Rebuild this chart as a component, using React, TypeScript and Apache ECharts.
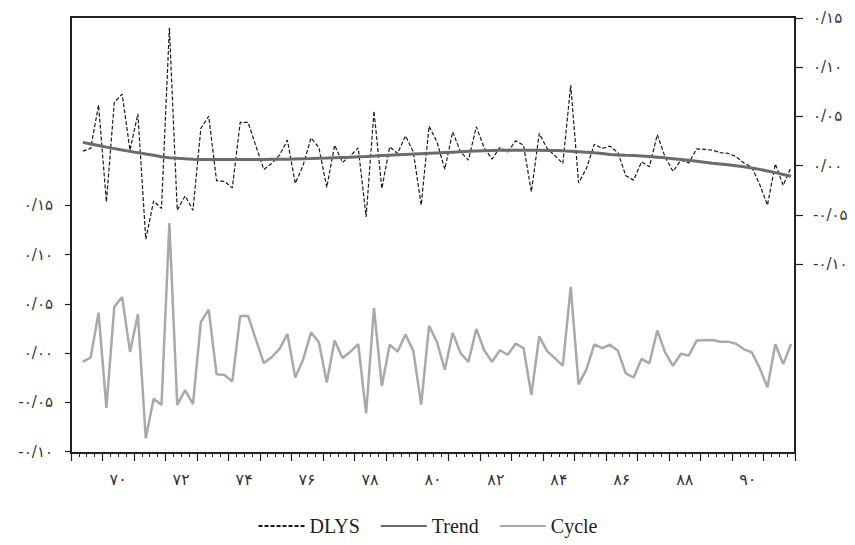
import React, { useEffect, useRef } from "react";
import * as echarts from "echarts";

// First observation: 1369 Q2 (quarterly data, DLYS loses the first quarter)
const startYear = 1369;
const startQuarter = 2;

// DLYS (right axis)
const dlys = [
  0.0147, 0.0175, 0.0615, -0.0368, 0.0642, 0.0726, 0.0157, 0.0526, -0.0747, -0.0358,
  -0.0435, 0.140, -0.0452, -0.0307, -0.0452, 0.0378, 0.0503, -0.0154, -0.016, -0.0226,
  0.0439, 0.0439, 0.0198, -0.0039, 0.0022, 0.0107, 0.0259, -0.0181, 0.0005, 0.0282,
  0.0185, -0.0221, 0.0208, 0.0033, 0.0100, 0.0181, -0.052, 0.0554, -0.0232, 0.0191,
  0.0124, 0.0303, 0.0140, -0.0401, 0.0401, 0.0242, -0.0036, 0.0343, 0.0140, 0.0056,
  0.0394, 0.0181, 0.0066, 0.0185, 0.0140, 0.0252, 0.0208, -0.0266, 0.0327, 0.0175,
  0.0100, 0.0022, 0.0818, -0.0175, -0.0028, 0.0218, 0.0175, 0.0198, 0.0132, -0.0102,
  -0.0147, 0.0039, -0.0012, 0.0315, 0.0086, -0.0059, 0.0056, 0.0028, 0.0171, 0.0165,
  0.0157, 0.0132, 0.0124, 0.0093, 0.0027, -0.0015, -0.0188, -0.0401, 0.0018, -0.0201,
  -0.0015,
];

// Trend (right axis)
const trend = [
  0.0236, 0.0220, 0.0205, 0.0188, 0.0173, 0.0158, 0.0145, 0.0132, 0.0118, 0.0105,
  0.0091, 0.0081, 0.0074, 0.0069, 0.0065, 0.0063, 0.0062, 0.0062, 0.0062, 0.0062,
  0.0062, 0.0062, 0.0062, 0.0063, 0.0064, 0.0065, 0.0066, 0.0068, 0.0070, 0.0072,
  0.0075, 0.0077, 0.0080, 0.0083, 0.0086, 0.0090, 0.0093, 0.0097, 0.0102, 0.0106,
  0.0110, 0.0114, 0.0118, 0.0122, 0.0125, 0.0129, 0.0133, 0.0137, 0.0141, 0.0145,
  0.0149, 0.0152, 0.0154, 0.0156, 0.0157, 0.0157, 0.0157, 0.0157, 0.0156, 0.0155,
  0.0153, 0.0150, 0.0146, 0.0142, 0.0137, 0.0130, 0.0124, 0.0113, 0.0109, 0.0105,
  0.0102, 0.0098, 0.0092, 0.0086, 0.0079, 0.0071, 0.0063, 0.0054, 0.0044, 0.0034,
  0.0025, 0.0017, 0.0008, -0.0001, -0.0011, -0.0023, -0.0038, -0.0054, -0.0071, -0.0089,
  -0.0107,
];

// Cycle (left axis)
const cycle = [
  -0.0089, -0.0045, 0.0410, -0.0556, 0.0469, 0.0568, 0.0012, 0.0394, -0.0865, -0.0463,
  -0.0526, 0.1319, -0.0526, -0.0376, -0.0517, 0.0315, 0.0441, -0.0216, -0.0222, -0.0288,
  0.0377, 0.0377, 0.0136, -0.0102, -0.0042, 0.0042, 0.0193, -0.0249, -0.0065, 0.0210,
  0.0110, -0.0298, 0.0128, -0.0050, 0.0014, 0.0091, -0.0613, 0.0457, -0.0334, 0.0085,
  0.0014, 0.0189, 0.0022, -0.0523, 0.0276, 0.0113, -0.0169, 0.0206, -0.0001, -0.0089,
  0.0245, 0.0029, -0.0088, 0.0029, -0.0017, 0.0095, 0.0051, -0.0423, 0.0171, 0.0020,
  -0.0053, -0.0128, 0.0672, -0.0317, -0.0165, 0.0088, 0.0051, 0.0085, 0.0023, -0.0207,
  -0.0249, -0.0059, -0.0104, 0.0229, 0.0007, -0.0130, -0.0007, -0.0026, 0.0127, 0.0131,
  0.0132, 0.0115, 0.0116, 0.0094, 0.0038, 0.0008, -0.0150, -0.0347, 0.0089, -0.0112,
  0.0092,
];

// Tick labels
const yearLabels = [1370, 1372, 1374, 1376, 1378, 1380, 1382, 1384, 1386, 1388, 1390];
const yTicks = [-0.1, -0.05, 0, 0.05, 0.1, 0.15];

const faDigits = "۰۱۲۳۴۵۶۷۸۹";
const toFa = (s: string) => s.replace(/\d/g, (d) => faDigits[+d]).replace(".", "/");
const fmtY = (v: number) => toFa((Math.round(v * 100) / 100).toFixed(2));
const fmtYear = (v: number) => toFa(String(Math.floor(v) % 100));

const xOf = (i: number) => startYear + (startQuarter - 1 + i + 0.5) / 4;
const pairs = (arr: number[]) => arr.map((v, i) => [xOf(i), v]);

const axisColor = "#222";
const labelFont = { fontFamily: "DejaVu Sans", fontSize: 15, color: "#333" };

export default function App() {
  const ref = useRef<HTMLDivElement>(null);
  useEffect(() => {
    if (!ref.current) return;
    const chart = echarts.init(ref.current, undefined, { renderer: "svg" });
    chart.setOption({
      animation: false,
      backgroundColor: "#fff",
      grid: {
        left: 71,
        right: 60,
        top: 17,
        bottom: 92,
        show: true,
        borderColor: axisColor,
        borderWidth: 2,
        backgroundColor: "transparent",
      },
      legend: {
        top: 510,
        left: "center",
        itemWidth: 46,
        itemHeight: 14,
        itemGap: 20,
        itemStyle: { opacity: 0, borderWidth: 0 },
        textStyle: { fontFamily: "Liberation Serif", fontSize: 20, color: "#222", lineHeight: 22 },
        data: ["DLYS", "Trend", "Cycle"],
      },
      xAxis: {
        type: "value",
        min: 1369,
        max: 1392,
        interval: 1,
        axisLine: { show: true, onZero: false, lineStyle: { color: axisColor, width: 2 } },
        axisTick: { show: true, length: 8, lineStyle: { color: axisColor, width: 1.2 } },
        minorTick: { show: true, splitNumber: 4, length: 4, lineStyle: { color: axisColor, width: 1 } },
        axisLabel: {
          ...labelFont,
          fontSize: 16,
          margin: 18,
          customValues: yearLabels.map((y) => y + 0.5),
          formatter: (v: number) => fmtYear(v),
        },
        splitLine: { show: false },
        minorSplitLine: { show: false },
      },
      yAxis: [
        {
          type: "value",
          position: "left",
          min: -0.1014,
          max: 0.341,
          axisLine: { show: true, lineStyle: { color: axisColor, width: 2 } },
          axisTick: { show: true, length: 6, customValues: yTicks, lineStyle: { color: axisColor, width: 1.2 } },
          axisLabel: { ...labelFont, margin: 18, customValues: yTicks, formatter: (v: number) => fmtY(v) },
          splitLine: { show: false },
        },
        {
          type: "value",
          position: "right",
          min: -0.2917,
          max: 0.1509,
          axisLine: { show: true, lineStyle: { color: axisColor, width: 2 } },
          axisTick: { show: true, length: 8, customValues: yTicks, lineStyle: { color: axisColor, width: 1.2 } },
          axisLabel: { ...labelFont, margin: 18, customValues: yTicks, formatter: (v: number) => fmtY(v) },
          splitLine: { show: false },
        },
      ],
      series: [
        {
          name: "DLYS",
          type: "line",
          yAxisIndex: 1,
          data: pairs(dlys),
          symbol: "none",
          lineStyle: { color: "#1a1a1a", width: 1.2, type: [4, 2] },
          itemStyle: { color: "#1a1a1a" },
          z: 2,
        },
        {
          name: "Trend",
          type: "line",
          yAxisIndex: 1,
          data: pairs(trend),
          symbol: "none",
          lineStyle: { color: "#6b6b6b", width: 3 },
          itemStyle: { color: "#6b6b6b" },
          z: 3,
        },
        {
          name: "Cycle",
          type: "line",
          yAxisIndex: 0,
          data: pairs(cycle),
          symbol: "none",
          lineStyle: { color: "#a9a9a9", width: 2.5 },
          itemStyle: { color: "#a9a9a9" },
          z: 2,
        },
      ],
    });
    return () => chart.dispose();
  }, []);
  return <div ref={ref} style={{ position: "absolute", left: 0, top: 0, width: 855, height: 545 }} />;
}
